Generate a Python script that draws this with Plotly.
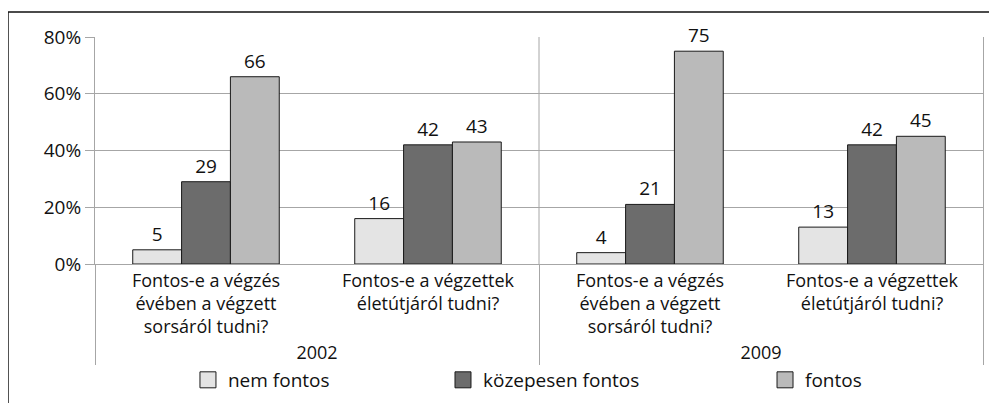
import plotly.graph_objects as go

years = ["2002", "2002", "2009", "2009"]
questions = [
    "Fontos-e a végzés<br>évében a végzett<br>sorsáról tudni?",
    "Fontos-e a végzettek<br>életútjáról tudni?",
    "Fontos-e a végzés<br>évében a végzett<br>sorsáról tudni?",
    "Fontos-e a végzettek<br>életútjáról tudni?",
]
series_names = ["nem fontos", "közepesen fontos", "fontos"]
nem_fontos = [5, 16, 4, 13]
kozepesen_fontos = [29, 42, 21, 42]
fontos = [66, 43, 75, 45]
y_ticks = [0, 20, 40, 60, 80]
y_tick_labels = ["0%", "20%", "40%", "60%", "80%"]

colors = ["#e4e4e4", "#6c6c6c", "#bababa"]
values = [nem_fontos, kozepesen_fontos, fontos]
legend_ids = ["legend", "legend2", "legend3"]
legend_x = [0.1805, 0.4363, 0.7593]

FONT = "Open Sans"
FS = 19
GRID = "#a6a6a6"
fig = go.Figure()
for name, vals, col in zip(series_names, values, colors):
    fig.add_trace(go.Bar(
        x=[years, questions], y=vals, name=name,
        marker=dict(color=col, line=dict(color="#1a1a1a", width=1)),
        text=[str(v) for v in vals], textposition="outside",
        textfont=dict(size=FS, color="#111", family=FONT),
        cliponaxis=False, showlegend=False,
    ))
# legend entries with larger square swatches
for name, col, lg in zip(series_names, colors, legend_ids):
    fig.add_trace(go.Scatter(
        x=[[None], [None]], y=[None], mode="markers", name=name,
        marker=dict(symbol="square", size=16, color=col, line=dict(color="#1a1a1a", width=1)),
        legend=lg, hoverinfo="skip",
    ))

legend_common = dict(orientation="h", xref="container", yref="container", y=0.077,
                     xanchor="left", yanchor="middle",
                     font=dict(size=FS, family=FONT), bgcolor="rgba(0,0,0,0)")
fig.update_layout(
    width=997, height=403,
    margin=dict(l=87, r=22, t=29, b=147, autoexpand=False),
    paper_bgcolor="white", plot_bgcolor="white",
    font=dict(family=FONT, size=FS, color="#111"),
    barmode="group", bargap=0.34, bargroupgap=0,
    showlegend=True,
    legend=dict(x=legend_x[0], **legend_common),
    legend2=dict(x=legend_x[1], **legend_common),
    legend3=dict(x=legend_x[2], **legend_common),
    shapes=[
        dict(type="rect", xref="paper", yref="paper",
             x0=-0.098, x1=1.05, y0=-0.75, y1=1.11,
             line=dict(color="#111", width=1.5), fillcolor="rgba(0,0,0,0)", layer="below"),
        # year separator through the plot area
        dict(type="line", xref="x domain", yref="y domain", x0=0.5, x1=0.5, y0=0, y1=1,
             line=dict(color=GRID, width=1), layer="below"),
    ],
)
fig.update_yaxes(range=[0, 80], tickvals=y_ticks, ticktext=y_tick_labels,
                 showgrid=True, gridcolor=GRID, gridwidth=1,
                 showline=True, linecolor=GRID, linewidth=1, mirror=True,
                 ticks="outside", ticklen=9, tickcolor=GRID,
                 tickfont=dict(size=FS), zeroline=False, fixedrange=True, automargin=False)
fig.update_xaxes(type="multicategory", showline=True, linecolor=GRID, linewidth=1,
                 mirror=False, showdividers=True, dividercolor=GRID, dividerwidth=1,
                 ticks="", tickfont=dict(size=18), showgrid=False, fixedrange=True,
                 automargin=False)

fig.write_html("out.html", config=dict(responsive=False))
